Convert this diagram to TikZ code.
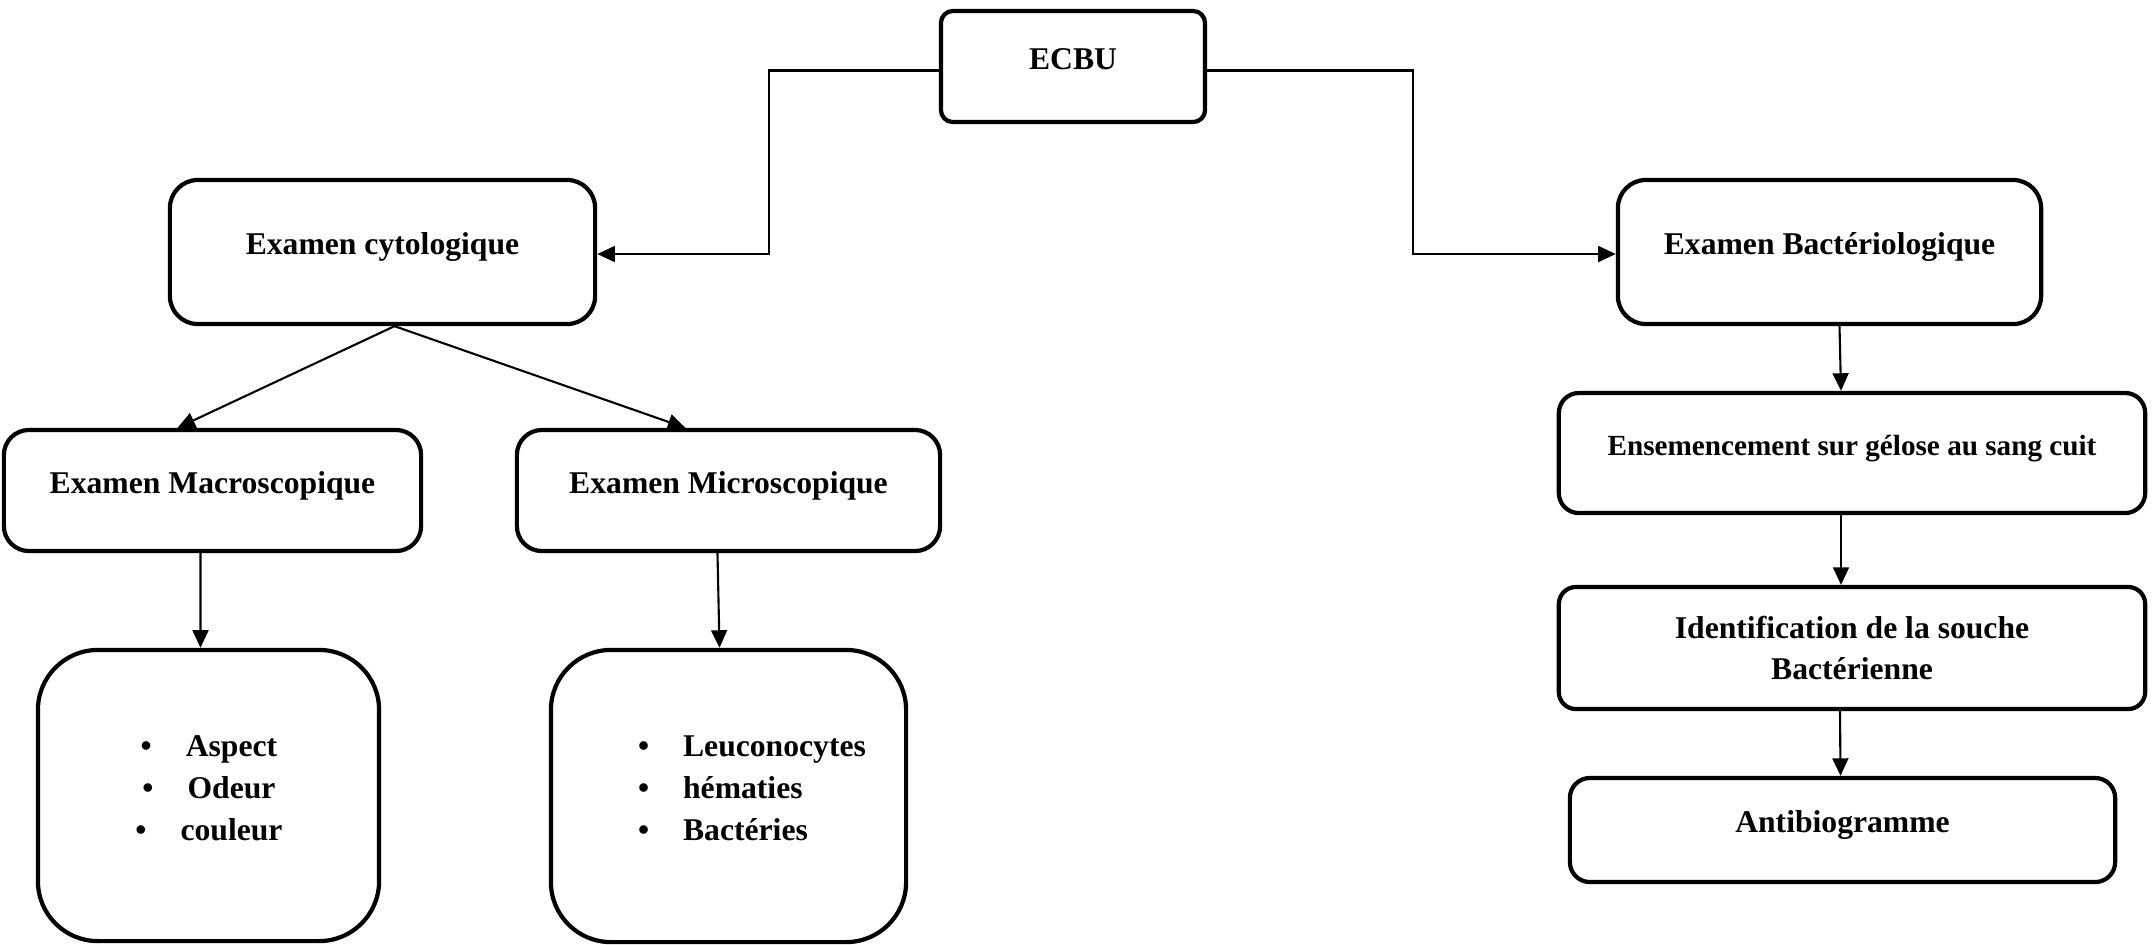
\documentclass[tikz,border=0pt]{standalone}
\usepackage{fontspec}
\setmainfont{Liberation Serif}
\usetikzlibrary{arrows.meta,calc}
\tikzstyle{stepbox} = [draw, line width=1.2pt, rectangle, rounded corners=0.25cm,
    font=\fontsize{9}{11.5}\selectfont\bfseries, align=center, inner sep=2pt]
\tikzstyle{oneline} = [stepbox, text height=0.22cm, text depth=0.17cm]
\tikzstyle{listbox} = [draw, line width=1.2pt, rectangle, rounded corners=0.6cm]
\tikzstyle{itemtext} = [font=\fontsize{9}{12}\selectfont\bfseries, inner sep=0pt]
\tikzstyle{link} = [line width=0.6pt, -{Triangle[length=5pt,width=4.5pt]}]

\begin{document}
\begin{tikzpicture}[x=0.01cm,y=-0.01cm]
\useasboundingbox (0,0) rectangle (2155,944);

\node [oneline, minimum width=2.64cm, minimum height=1.11cm, rounded corners=0.12cm] (ecbu) at (1073,66.5) {ECBU};

% cytologie
\node [oneline, minimum width=4.25cm, minimum height=1.44cm, rounded corners=0.28cm] (cyto) at (382.5,252) {Examen cytologique};
\node [oneline, minimum width=4.17cm, minimum height=1.21cm] (macro) at (212.5,490.5) {Examen Macroscopique};
\node [oneline, minimum width=4.23cm, minimum height=1.21cm] (micro) at (728.5,490.5) {Examen Microscopique};

\node [listbox, minimum width=3.41cm, minimum height=2.91cm] (macrolist) at (208.5,795.5) {};
\node [itemtext, align=center] (macroitems) at (209,788) {%
    \textbullet\hspace{0.34cm}Aspect\\
    \textbullet\hspace{0.34cm}Odeur\\
    \textbullet\hspace{0.34cm}couleur};

\node [listbox, minimum width=3.55cm, minimum height=2.92cm] (microlist) at (728.5,796) {};
\node [itemtext, align=left] (microitems) at (752,788) {%
    \textbullet\hspace{0.34cm}Leuconocytes\\
    \textbullet\hspace{0.34cm}hématies\\
    \textbullet\hspace{0.34cm}Bactéries};

% bacteriologie
\node [oneline, minimum width=4.23cm, minimum height=1.44cm, rounded corners=0.28cm] (bact) at (1829.5,252) {Examen Bactériologique};
\node [oneline, minimum width=5.86cm, minimum height=1.20cm, rounded corners=0.2cm,
    font=\fontsize{8.3}{10}\selectfont\bfseries] (ensem) at (1852,453) {Ensemencement sur gélose au sang cuit};
\node [stepbox, minimum width=5.86cm, minimum height=1.22cm, rounded corners=0.17cm] (ident) at (1852,648) {Identification de la souche\\Bactérienne};
\node [oneline, minimum width=5.45cm, minimum height=1.04cm, rounded corners=0.2cm] (antibio) at (1842.5,830) {Antibiogramme};

\draw [link] ([yshift=-0.04cm]ecbu.west) -- ++(-170,0) |- ([yshift=-0.02cm]cyto.east);
\draw [link] ([yshift=-0.04cm]ecbu.east) -- ++(206,0) |- ([yshift=-0.02cm]bact.west);

\draw [link] ([xshift=0.12cm]cyto.south) -- ([xshift=-0.35cm]macro.north);
\draw [link] ([xshift=0.12cm]cyto.south) -- ([xshift=-0.43cm]micro.north);
\draw [link] ([xshift=-0.12cm]macro.south) -- ([xshift=-0.08cm]macrolist.north);
\draw [link] ([xshift=-0.11cm]micro.south) -- ([xshift=-0.09cm]microlist.north);

\draw [link] ([xshift=0.10cm]bact.south) -- ([xshift=-0.11cm]ensem.north);
\draw [link] ([xshift=-0.11cm]ensem.south) -- ([xshift=-0.11cm]ident.north);
\draw [link] ([xshift=-0.12cm]ident.south) -- ([xshift=-0.02cm]antibio.north);

\end{tikzpicture}
\end{document}
